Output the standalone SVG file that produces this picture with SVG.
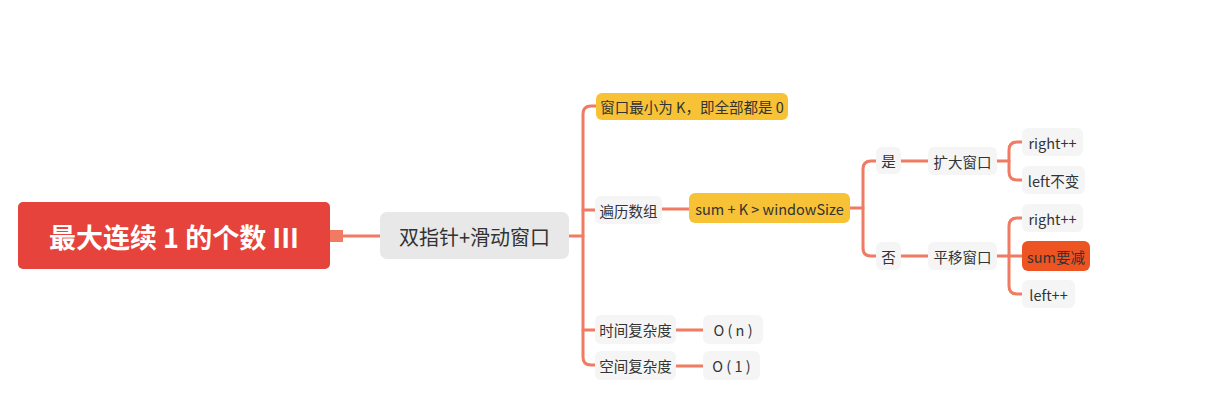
<svg xmlns="http://www.w3.org/2000/svg" width="1210" height="407" viewBox="0 0 1210 407">
<style>
text{font-family:"Noto Sans CJK SC","Liberation Sans",sans-serif;dominant-baseline:central;text-anchor:middle;fill:#333}
.c{fill:none;stroke:#F07A62;stroke-width:3;stroke-linecap:round}
.g{fill:#F5F5F5}
.y{fill:#F7C236}
.s{font-size:14.5px}
</style>
<rect width="1210" height="407" fill="#fff"/>
<g id="connectors">
<rect x="330" y="230" width="13" height="12" fill="#F07A62"/>
<path class="c" d="M343 236H380"/>
<path class="c" d="M569 236H583"/>
<path class="c" d="M596 106H591Q583 106 583 114V357Q583 365 591 365H596"/>
<path class="c" d="M583 210H595"/>
<path class="c" d="M583 330H595"/>
<path class="c" d="M662 209H689"/>
<path class="c" d="M676 330H703"/>
<path class="c" d="M676 366H703"/>
<path class="c" d="M850 208H863"/>
<path class="c" d="M876 161H871Q863 161 863 169V248Q863 256 871 256H876"/>
<path class="c" d="M901 161H928"/>
<path class="c" d="M901 256H928"/>
<path class="c" d="M997 161H1009"/>
<path class="c" d="M1022 142H1017Q1009 142 1009 150V172Q1009 180 1017 180H1022"/>
<path class="c" d="M997 256H1009"/>
<path class="c" d="M1022 218H1017Q1009 218 1009 226V286Q1009 294 1017 294H1022"/>
<path class="c" d="M1009 256H1022"/>
</g>
<g id="root"><rect x="18" y="202" width="312" height="67" rx="5" fill="#E5433B"/><text x="174" y="236" style="font-size:27px;font-weight:bold;fill:#fff">最大连续 1 的个数 III</text></g>
<g id="n-main"><rect x="380" y="212" width="189" height="47" rx="7" fill="#E8E8E8"/><text x="474.5" y="236" style="font-size:20px">双指针+滑动窗口</text></g>
<g id="n-min"><rect class="y" x="596" y="93" width="192" height="27" rx="6"/><text class="s" x="692" y="106.5">窗口最小为 K，即全部都是 0</text></g>
<g id="n-iter"><rect class="g" x="595" y="196" width="67" height="28" rx="6"/><text class="s" x="628.5" y="210">遍历数组</text></g>
<g id="n-cond"><rect class="y" x="689" y="193" width="161" height="30" rx="6"/><text class="s" x="769.5" y="208">sum + K &gt; windowSize</text></g>
<g id="n-yes"><rect class="g" x="876" y="147" width="25" height="27" rx="6"/><text class="s" x="888.5" y="160.5">是</text></g>
<g id="n-expand"><rect class="g" x="928" y="147" width="69" height="28" rx="6"/><text class="s" x="962.5" y="161">扩大窗口</text></g>
<g id="n-r1"><rect class="g" x="1022" y="128" width="61" height="28" rx="6"/><text class="s" x="1052.5" y="142">right++</text></g>
<g id="n-l1"><rect class="g" x="1022" y="166" width="63" height="28" rx="6"/><text class="s" x="1053.5" y="180">left不变</text></g>
<g id="n-no"><rect class="g" x="876" y="242" width="25" height="28" rx="6"/><text class="s" x="888.5" y="256">否</text></g>
<g id="n-shift"><rect class="g" x="928" y="242" width="69" height="28" rx="6"/><text class="s" x="962.5" y="256">平移窗口</text></g>
<g id="n-r2"><rect class="g" x="1022" y="204" width="61" height="28" rx="6"/><text class="s" x="1052.5" y="218">right++</text></g>
<g id="n-sum"><rect x="1022" y="241" width="68" height="30" rx="6" fill="#EE5422"/><text class="s" x="1056" y="256">sum要减</text></g>
<g id="n-l2"><rect class="g" x="1022" y="280" width="53" height="28" rx="6"/><text class="s" x="1048.5" y="294">left++</text></g>
<g id="n-time"><rect class="g" x="595" y="315" width="81" height="29" rx="6"/><text class="s" x="635.5" y="329.5">时间复杂度</text></g>
<g id="n-on"><rect class="g" x="703" y="315" width="60" height="29" rx="6"/><text class="s" x="733" y="329.5">O ( n )</text></g>
<g id="n-space"><rect class="g" x="595" y="351" width="81" height="29" rx="6"/><text class="s" x="635.5" y="365.5">空间复杂度</text></g>
<g id="n-o1"><rect class="g" x="703" y="351" width="57" height="29" rx="6"/><text class="s" x="731.5" y="365.5">O ( 1 )</text></g>
</svg>
